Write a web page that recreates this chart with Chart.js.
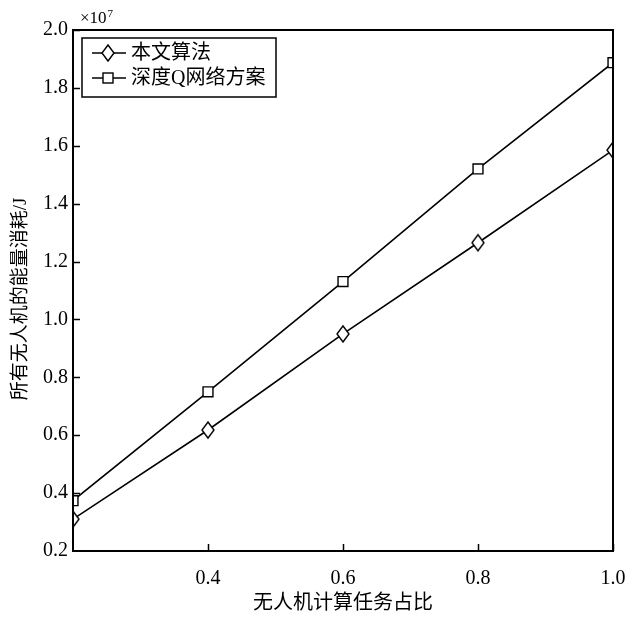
<!DOCTYPE html>
<html lang="zh">
<head>
  <meta charset="UTF-8">
  <title>能量消耗</title>
  <script src="https://cdn.jsdelivr.net/npm/chart.js"></script>
  <style>
    html, body { margin: 0; padding: 0; background: #fff; }
    #wrap { width: 637px; height: 617px; }
  </style>
</head>
<body>
  <div id="wrap"><canvas id="energyChart" width="637" height="617"></canvas></div>

  <script>
    // task ratio on the x axis, energy in units of 1e7 J
    const ratios = [0.2, 0.4, 0.6, 0.8, 1.0];
    const oursEnergy = [0.310, 0.618, 0.950, 1.265, 1.585];
    const dqnEnergy = [0.374, 0.750, 1.131, 1.520, 1.887];
    const seriesNames = ['本文算法', '深度Q网络方案'];
    const xTicks = [0.4, 0.6, 0.8, 1.0];
    const serif = '"Liberation Serif", "Noto Sans CJK SC", serif';

    const toPoints = (ys) => ratios.map((x, i) => ({ x: x, y: ys[i] }));

    // tall open diamond used as the point style of the first series
    function diamondMarker() {
      const cv = document.createElement('canvas');
      cv.width = 16; cv.height = 20;
      const g = cv.getContext('2d');
      g.fillStyle = '#fff';
      g.strokeStyle = '#000';
      g.lineWidth = 1.4;
      g.beginPath();
      g.moveTo(8, 2); g.lineTo(14, 10); g.lineTo(8, 18); g.lineTo(2, 10); g.closePath();
      g.fill(); g.stroke();
      return cv;
    }
    const diamond = diamondMarker();

    // frame, inward ticks, exponent, axis titles and the legend box
    const decor = {
      id: 'decor',
      afterDraw(chart) {
        const c = chart.ctx;
        const a = chart.chartArea;
        const xs = chart.scales.x;
        const ys = chart.scales.y;
        c.save();
        c.strokeStyle = '#000';
        c.lineWidth = 2;
        c.strokeRect(a.left, a.top, a.right - a.left, a.bottom - a.top);

        c.lineWidth = 1.5;
        c.beginPath();
        xTicks.forEach(v => {
          const px = Math.round(xs.getPixelForValue(v)) + 0.5;
          c.moveTo(px, a.bottom);
          c.lineTo(px, a.bottom - 7);
        });
        for (let v = 0.4; v < 2.0; v += 0.2) {
          const py = Math.round(ys.getPixelForValue(v)) + 0.5;
          c.moveTo(a.left, py);
          c.lineTo(a.left + 7, py);
        }
        c.stroke();

        c.fillStyle = '#000';
        c.font = '17px ' + serif;
        c.textBaseline = 'alphabetic';
        c.textAlign = 'left';
        const ex = a.left + 7;
        c.fillText('×10', ex, 23);
        const w = c.measureText('×10').width;
        c.font = '11px ' + serif;
        c.fillText('7', ex + w + 1, 17);

        c.textAlign = 'center';
        c.textBaseline = 'middle';
        c.font = '20px ' + serif;
        c.fillText('无人机计算任务占比', (a.left + a.right) / 2, 604);
        c.save();
        c.translate(21, 299);
        c.rotate(-Math.PI / 2);
        c.font = '19px ' + serif;
        c.fillText('所有无人机的能量消耗/J', 0, 0);
        c.restore();

        // legend
        const lx = 82, ly = 38, lw = 194, lh = 59;
        c.fillStyle = '#fff';
        c.fillRect(lx, ly, lw, lh);
        c.lineWidth = 1.5;
        c.strokeRect(lx, ly, lw, lh);
        const rows = [53, 78];
        rows.forEach((ry, i) => {
          c.lineWidth = 1.5;
          c.beginPath();
          c.moveTo(lx + 10, ry);
          c.lineTo(lx + 44, ry);
          c.stroke();
          const mx = lx + 26;
          if (i === 0) {
            c.drawImage(diamond, mx - 8, ry - 10);
          } else {
            c.fillStyle = '#fff';
            c.fillRect(mx - 5, ry - 5, 10, 10);
            c.lineWidth = 1.4;
            c.strokeRect(mx - 5, ry - 5, 10, 10);
          }
          c.fillStyle = '#000';
          c.font = '20px ' + serif;
          c.textAlign = 'left';
          c.fillText(seriesNames[i], lx + 49, ry + 1);
        });
        c.restore();
      }
    };

    const ds = (label, ys, style, r) => ({
      label: label,
      data: toPoints(ys),
      borderColor: '#000',
      borderWidth: 1.6,
      pointStyle: style,
      pointRadius: r,
      pointBorderWidth: 1.4,
      pointBackgroundColor: '#fff',
      pointBorderColor: '#000',
      tension: 0,
      fill: false
    });

    new Chart(document.getElementById('energyChart'), {
      type: 'line',
      data: {
        datasets: [
          ds(seriesNames[0], oursEnergy, diamond, 8),
          ds(seriesNames[1], dqnEnergy, 'rect', 7)
        ]
      },
      options: {
        responsive: false,
        animation: false,
        layout: { padding: { top: 30, right: 24, left: 0, bottom: 0 } },
        plugins: { legend: { display: false }, tooltip: { enabled: false } },
        scales: {
          x: {
            type: 'linear',
            min: 0.2,
            max: 1.0,
            afterFit: s => { s.height = 66; s.paddingRight = 0; s.paddingLeft = 0; },
            afterBuildTicks: s => { s.ticks = xTicks.map(v => ({ value: v })); },
            grid: { display: false, drawTicks: false },
            border: { display: false },
            ticks: {
              padding: 16,
              color: '#000',
              font: { family: serif, size: 20 },
              callback: v => v.toFixed(1)
            }
          },
          y: {
            min: 0.2,
            max: 2.0,
            afterFit: s => { s.width = 73; s.paddingTop = 0; s.paddingBottom = 0; },
            grid: { display: false, drawTicks: false },
            border: { display: false },
            ticks: {
              stepSize: 0.2,
              padding: 5,
              color: '#000',
              font: { family: serif, size: 20 },
              callback: v => v.toFixed(1)
            }
          }
        }
      },
      plugins: [decor]
    });
  </script>
</body>
</html>
